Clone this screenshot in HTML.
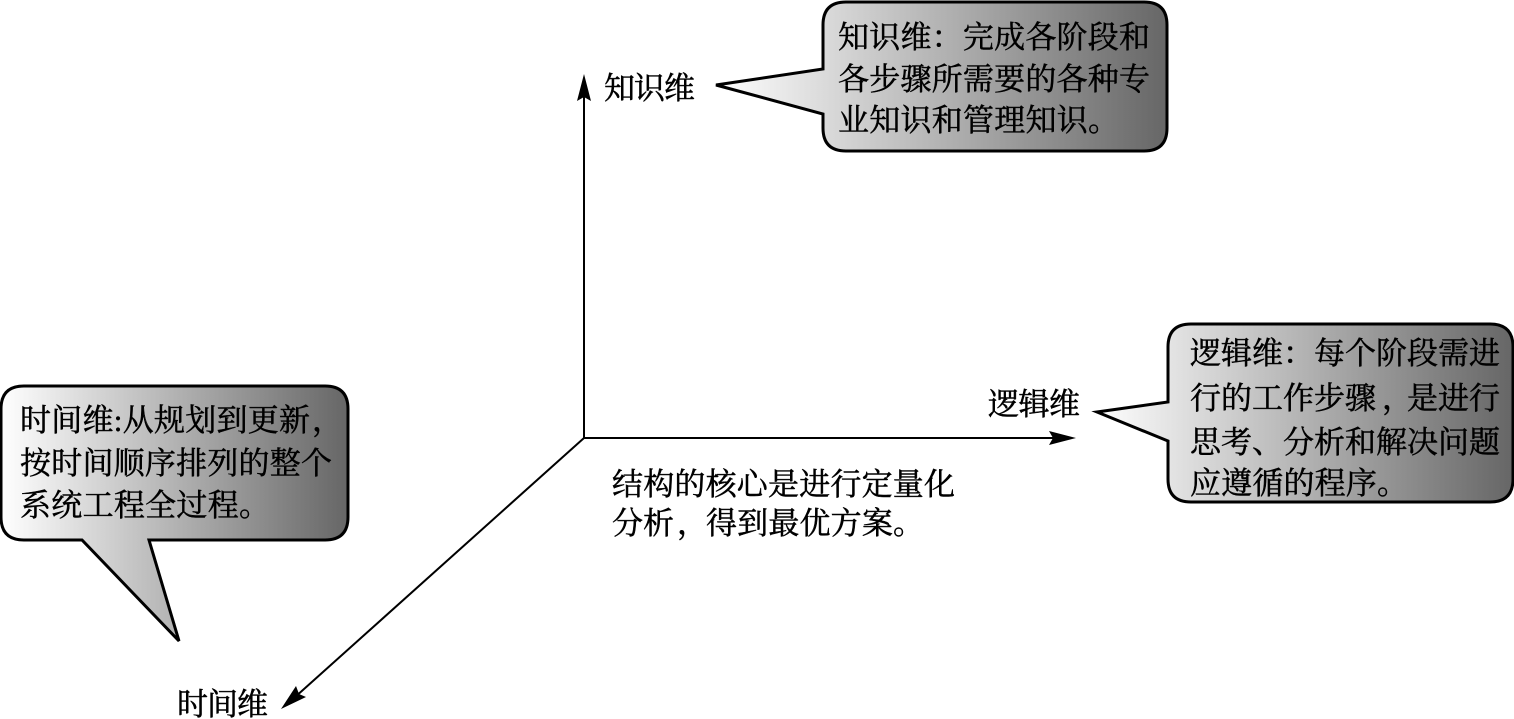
<!DOCTYPE html>
<html lang="zh">
<head>
<meta charset="utf-8">
<style>
html,body{margin:0;padding:0;background:#fff;width:1514px;height:719px;overflow:hidden}
svg{display:block}
text{font-family:"Liberation Serif","Noto Serif CJK SC",serif;font-size:31px;fill:#000;stroke:#000;stroke-width:.5px}
</style>
</head>
<body>
<svg width="1514" height="719" viewBox="0 0 1514 719" xmlns="http://www.w3.org/2000/svg">
<defs>
<linearGradient id="g1" gradientUnits="userSpaceOnUse" x1="716" y1="0" x2="1168" y2="0"><stop offset="0" stop-color="#fff"/><stop offset="1" stop-color="#666"/></linearGradient>
<linearGradient id="g2" gradientUnits="userSpaceOnUse" x1="1" y1="0" x2="348" y2="0"><stop offset="0" stop-color="#fff"/><stop offset="1" stop-color="#666"/></linearGradient>
<linearGradient id="g3" gradientUnits="userSpaceOnUse" x1="1095" y1="0" x2="1513" y2="0"><stop offset="0" stop-color="#fff"/><stop offset="1" stop-color="#666"/></linearGradient>
</defs>

<path d="M846 2H1144Q1167 2 1167 25V128Q1167 151 1144 151H846Q823 151 823 128V114L716 85L823 69V25Q823 2 846 2Z" fill="url(#g1)" stroke="#000" stroke-width="3"/>
<path d="M24 386H325Q348 386 348 409V517Q348 540 325 540H149L179 641L82 540H24Q1 540 1 517V409Q1 386 24 386Z" fill="url(#g2)" stroke="#000" stroke-width="3"/>
<path d="M1191 324H1490Q1513 324 1513 347V479Q1513 502 1490 502H1191Q1168 502 1168 479V441L1097 412L1168 402V347Q1168 324 1191 324Z" fill="url(#g3)" stroke="#000" stroke-width="3"/>

<g stroke="#000" stroke-width="2" fill="none">
<path d="M584 92V438H1060"/>
<path d="M584 438L294 698"/>
</g>
<g fill="#000">
<path d="M584 74L591 101L584 97L577 101Z"/>
<path d="M1076 438L1049 431L1053 438L1049 445Z"/>
<path d="M281 709L296 686L299 694L306 697Z"/>
</g>

<text x="838" y="48" textLength="312">知识维：完成各阶段和</text>
<text x="838" y="90" textLength="312">各步骤所需要的各种专</text>
<text x="838" y="131" textLength="281">业知识和管理知识。</text>

<text x="20" y="431" textLength="290">时间维:从规划到更新</text>
<text x="312" y="431">，</text>
<text x="20" y="474" textLength="312">按时间顺序排列的整个</text>
<text x="20" y="516" textLength="250">系统工程全过程。</text>

<text x="1190" y="364" textLength="310">逻辑维：每个阶段需进</text>
<text x="1190" y="409" textLength="186">行的工作步骤</text>
<text x="1382" y="409">，</text>
<text x="1407" y="409" textLength="93">是进行</text>
<text x="1190" y="453" textLength="310">思考、分析和解决问题</text>
<text x="1190" y="494" textLength="218">应遵循的程序。</text>

<text x="604" y="99" textLength="91">知识维</text>
<text x="988" y="415" textLength="92">逻辑维</text>
<text x="177" y="715" textLength="91">时间维</text>

<text x="612" y="495" textLength="343">结构的核心是进行定量化</text>
<text x="612" y="534" textLength="62">分析</text>
<text x="677" y="534">，</text>
<text x="706" y="534" textLength="218">得到最优方案。</text>
</svg>
</body>
</html>
